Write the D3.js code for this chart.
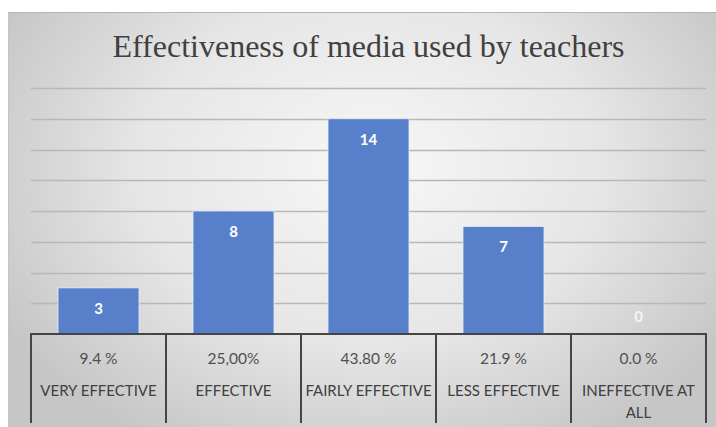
<!DOCTYPE html>
<html>
<head>
<meta charset="utf-8">
<script src="https://cdn.jsdelivr.net/npm/d3@7"></script>
<style>
  html, body { margin: 0; padding: 0; background: #ffffff; }
  svg { display: block; }
</style>
</head>
<body>
<svg id="chart" width="716" height="427"></svg>
<script>
// Survey responses: how effective teachers' media are
const categories = ["VERY EFFECTIVE", "EFFECTIVE", "FAIRLY EFFECTIVE", "LESS EFFECTIVE", "INEFFECTIVE AT ALL"];
const counts = [3, 8, 14, 7, 0];
const percentLabels = ["9.4 %", "25,00%", "43.80 %", "21.9 %", "0.0 %"];
const yTicks = [0, 2, 4, 6, 8, 10, 12, 14, 16];
const title = "Effectiveness of media used by teachers";

const svg = d3.select("#chart");
const W = 716, H = 427;
const frame = { left: 8, top: 12 };
const plot = { left: 31, right: 706, top: 88, bottom: 334 };

// Soft radial background of the chart area
const defs = svg.append("defs");
const grad = defs.append("radialGradient")
  .attr("id", "bg")
  .attr("gradientUnits", "userSpaceOnUse")
  .attr("cx", 370).attr("cy", 170).attr("r", 420)
  .attr("gradientTransform", "translate(370,170) scale(1,0.75) translate(-370,-170)");
grad.append("stop").attr("offset", "0%").attr("stop-color", "#f7f7f7");
grad.append("stop").attr("offset", "55%").attr("stop-color", "#e6e6e6");
grad.append("stop").attr("offset", "100%").attr("stop-color", "#c6c6c6");

svg.append("rect")
  .attr("x", frame.left).attr("y", frame.top)
  .attr("width", W - frame.left).attr("height", H - frame.top)
  .attr("fill", "url(#bg)");
svg.append("line")
  .attr("x1", frame.left).attr("x2", W)
  .attr("y1", frame.top + 0.5).attr("y2", frame.top + 0.5)
  .attr("stroke", "#b4b4b4").attr("stroke-width", 1);
svg.append("line")
  .attr("x1", frame.left + 0.5).attr("x2", frame.left + 0.5)
  .attr("y1", frame.top).attr("y2", H)
  .attr("stroke", "#c4c4c4").attr("stroke-width", 1);

// Scales
const x = d3.scaleBand()
  .domain(categories)
  .range([plot.left, plot.right])
  .paddingInner(0.4)
  .paddingOuter(0.2);
const xCell = d3.scaleBand()
  .domain(categories)
  .range([plot.left, plot.right])
  .padding(0);
const y = d3.scaleLinear()
  .domain([0, 16])
  .range([plot.bottom, plot.top]);

// Title
svg.append("text")
  .attr("x", (plot.left + plot.right) / 2)
  .attr("y", 57)
  .attr("text-anchor", "middle")
  .attr("font-family", "'Liberation Serif', 'Times New Roman', serif")
  .attr("font-size", 32)
  .attr("fill", "#404040")
  .text(title);

// Horizontal gridlines
svg.append("g")
  .selectAll("line")
  .data(yTicks.filter(t => t > 0))
  .join("line")
  .attr("x1", plot.left).attr("x2", plot.right)
  .attr("y1", d => Math.round(y(d)) + 0.5)
  .attr("y2", d => Math.round(y(d)) + 0.5)
  .attr("stroke", "#b8b8b8")
  .attr("stroke-width", 1.5);

// Bars
const barColor = "#5880ca";
svg.append("g")
  .selectAll("rect")
  .data(categories)
  .join("rect")
  .attr("x", d => x(d))
  .attr("width", x.bandwidth())
  .attr("y", (d, i) => y(counts[i]))
  .attr("height", (d, i) => y(0) - y(counts[i]))
  .attr("fill", barColor)
  .attr("stroke", "#e8eef8")
  .attr("stroke-width", 0.8);

// Value labels at the inside end of each bar
svg.append("g")
  .selectAll("text")
  .data(categories)
  .join("text")
  .attr("x", d => x(d) + x.bandwidth() / 2)
  .attr("y", (d, i) => counts[i] > 0 ? y(counts[i]) + 26 : y(0) - 12)
  .attr("text-anchor", "middle")
  .attr("font-family", "Lato, 'Open Sans', sans-serif")
  .attr("font-weight", "bold")
  .attr("font-size", 15)
  .attr("fill", (d, i) => counts[i] > 0 ? "#ffffff" : "#f4f4f4")
  .text((d, i) => counts[i]);

// Data-table style axis: baseline and cell dividers
const axisColor = "#454545";
svg.append("line")
  .attr("x1", plot.left - 1).attr("x2", plot.right + 1)
  .attr("y1", plot.bottom).attr("y2", plot.bottom)
  .attr("stroke", axisColor).attr("stroke-width", 2);

const dividers = categories.map(c => xCell(c)).concat([plot.right]);
svg.append("g")
  .selectAll("line")
  .data(dividers)
  .join("line")
  .attr("x1", d => d).attr("x2", d => d)
  .attr("y1", plot.bottom).attr("y2", 423)
  .attr("stroke", axisColor).attr("stroke-width", 2);

// Percentage row
svg.append("g")
  .selectAll("text")
  .data(categories)
  .join("text")
  .attr("x", d => xCell(d) + xCell.bandwidth() / 2)
  .attr("y", 364)
  .attr("text-anchor", "middle")
  .attr("font-family", "Lato, 'Open Sans', sans-serif")
  .attr("font-size", 15.5)
  .attr("fill", "#505050")
  .text((d, i) => percentLabels[i]);

// Category row, wrapped to the cell width
const catText = svg.append("g")
  .selectAll("text")
  .data(categories)
  .join("text")
  .attr("x", d => xCell(d) + xCell.bandwidth() / 2)
  .attr("y", 396)
  .attr("text-anchor", "middle")
  .attr("font-family", "Lato, 'Open Sans', sans-serif")
  .attr("font-size", 15)
  .attr("fill", "#404040");

catText.each(function(d) {
  const el = d3.select(this);
  const cx = xCell(d) + xCell.bandwidth() / 2;
  const maxW = xCell.bandwidth() - 1;
  const words = d.split(" ");
  let line = [];
  let tspan = el.append("tspan").attr("x", cx).attr("dy", 0);
  words.forEach(w => {
    line.push(w);
    tspan.text(line.join(" "));
    if (tspan.node().getComputedTextLength() > maxW && line.length > 1) {
      line.pop();
      tspan.text(line.join(" "));
      line = [w];
      tspan = el.append("tspan").attr("x", cx).attr("dy", 22).text(w);
    }
  });
});
</script>
</body>
</html>
